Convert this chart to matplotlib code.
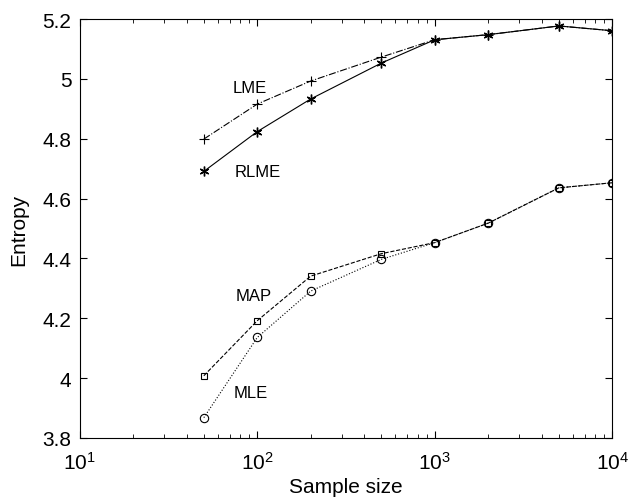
import matplotlib
matplotlib.use("Agg")
import matplotlib.pyplot as plt

plt.rcParams['font.family'] = ['Liberation Sans', 'DejaVu Sans']
plt.rcParams['mathtext.fontset'] = 'custom'
plt.rcParams['mathtext.rm'] = 'Liberation Sans'

# sample sizes and entropy estimates for each estimator
sample_size = [50, 100, 200, 500, 1000, 2000, 5000, 10000]
lme = [4.799, 4.916, 4.993, 5.073, 5.131, 5.148, 5.177, 5.161]
rlme = [4.691, 4.824, 4.933, 5.053, 5.131, 5.148, 5.177, 5.161]
map_est = [4.008, 4.192, 4.341, 4.416, 4.453, 4.518, 4.636, 4.653]
mle = [3.868, 4.136, 4.291, 4.397, 4.453, 4.518, 4.636, 4.653]

fig = plt.figure(figsize=(6.28, 5.02), dpi=100)
ax = fig.add_axes([0.127, 0.1255, 0.848, 0.8345])

ax.plot(sample_size, lme, '-.', color='black', lw=0.8, marker='+', ms=7, mew=0.8)
ax.plot(sample_size, rlme, '-', color='black', lw=0.8, marker=(6, 2, 0), ms=7, mew=1.0)
ax.plot(sample_size, map_est, '--', color='black', lw=0.8, marker='s', ms=5,
        mfc='none', mew=0.8)
ax.plot(sample_size, mle, ':', color='black', lw=0.8, marker='o', ms=6,
        mfc='none', mew=0.8)

ax.text(91, 4.973, 'LME', fontsize=12, ha='center', va='center')
ax.text(100, 4.69, 'RLME', fontsize=12, ha='center', va='center')
ax.text(95, 4.277, 'MAP', fontsize=12, ha='center', va='center')
ax.text(92, 3.952, 'MLE', fontsize=12, ha='center', va='center')

ax.set_xscale('log')
ax.set_xlim(10, 10000)
ax.set_ylim(3.8, 5.2)
ax.set_yticks([3.8, 4.0, 4.2, 4.4, 4.6, 4.8, 5.0, 5.2])
ax.set_yticklabels(['3.8', '4', '4.2', '4.4', '4.6', '4.8', '5', '5.2'])
ax.tick_params(which='both', direction='in', top=True, right=True, labelsize=15)
ax.tick_params(axis='x', which='major', pad=9)
ax.tick_params(axis='y', which='major', pad=6)
ax.tick_params(which='major', length=5)
ax.tick_params(which='minor', length=3)
ax.set_xlabel('Sample size', fontsize=15, labelpad=3)
ax.set_ylabel('Entropy', fontsize=15, labelpad=10)

plt.savefig('out.png', dpi=100)
